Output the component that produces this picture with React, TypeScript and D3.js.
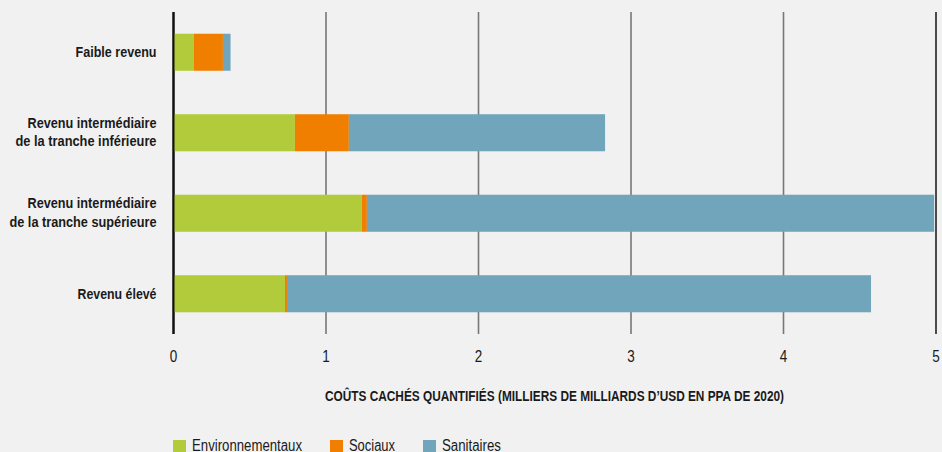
import React from "react";
import * as d3 from "d3";

const categories = [
  ["Faible revenu"],
  ["Revenu intermédiaire", "de la tranche inférieure"],
  ["Revenu intermédiaire", "de la tranche supérieure"],
  ["Revenu élevé"],
];
const seriesNames = ["Environnementaux", "Sociaux", "Sanitaires"];
const environnementaux = [0.134, 0.796, 1.235, 0.731];
const sociaux = [0.19, 0.354, 0.033, 0.013];
const sanitaires = [0.05, 1.68, 3.72, 3.83];
const xTicks = [0, 1, 2, 3, 4, 5];
const colors = ["#b1cb3a", "#f07f00", "#71a5bc"];

const W = 942;
const H = 452;
const FONT = "'Liberation Sans', Arial, sans-serif";

// widths measured on the reference (condensed typeface)
const labelWidths = [[81], [129, 141], [129, 147], [79]];
const legendWidths = [110, 46, 59];
const legendX = [173, 330, 423];

export default function App() {
  const x = d3.scaleLinear().domain([0, 5]).range([173.5, 936]);
  const y = d3
    .scaleBand<number>()
    .domain(d3.range(categories.length))
    .range([12, 334])
    .paddingInner(0.54)
    .paddingOuter(0.27);

  const rows = categories.map((_, i) => ({
    env: environnementaux[i],
    soc: sociaux[i],
    san: sanitaires[i],
  }));
  const stack = d3.stack<any>().keys(["env", "soc", "san"])(rows);

  return (
    <svg
      width={W}
      height={H}
      style={{ position: "absolute", left: 0, top: 0, background: "#f1f1f1" }}
      fontFamily={FONT}
    >
      <rect x={0} y={0} width={W} height={H} fill="#f1f1f1" />
      {xTicks.map((t) => (
        <line
          key={t}
          x1={x(t)}
          x2={x(t)}
          y1={12}
          y2={334}
          stroke={t === 0 ? "#111" : t === 5 ? "#222" : "#777"}
          strokeWidth={t === 0 ? 2 : 1.6}
        />
      ))}
      {stack.map((s, si) =>
        s.map((d, i) => (
          <rect
            key={si + "-" + i}
            x={x(d[0])}
            width={Math.max(0, x(d[1]) - x(d[0]))}
            y={y(i)}
            height={y.bandwidth()}
            fill={colors[si]}
          />
        ))
      )}
      <line x1={x(0)} x2={x(0)} y1={12} y2={334} stroke="#111" strokeWidth={2} />
      {categories.map((lines, i) => {
        const cy = (y(i) as number) + y.bandwidth() / 2;
        const baselines =
          lines.length === 1 ? [cy + 5] : [cy - 5, cy + 13.5];
        return (
          <g key={i}>
            {lines.map((l, j) => (
              <text
                key={j}
                x={156.5}
                y={baselines[j]}
                textAnchor="end"
                fontSize={15.5}
                fontWeight="bold"
                fill="#1a1a1a"
                textLength={labelWidths[i][j]}
                lengthAdjust="spacingAndGlyphs"
              >
                {l}
              </text>
            ))}
          </g>
        );
      })}
      {xTicks.map((t) => (
        <text
          key={t}
          x={x(t)}
          y={362}
          textAnchor="middle"
          fontSize={16.5}
          fill="#1a1a1a"
          textLength={7.5}
          lengthAdjust="spacingAndGlyphs"
        >
          {t}
        </text>
      ))}
      <text
        x={325}
        y={400.5}
        fontSize={14.5}
        fontWeight="bold"
        fill="#1a1a1a"
        textLength={459}
        lengthAdjust="spacingAndGlyphs"
      >
        COÛTS CACHÉS QUANTIFIÉS (MILLIERS DE MILLIARDS D’USD EN PPA DE 2020)
      </text>
      {seriesNames.map((n, i) => (
        <g key={n}>
          <rect x={legendX[i]} y={440} width={13} height={13} fill={colors[i]} />
          <text
            x={legendX[i] + 19}
            y={451}
            fontSize={16}
            fill="#1a1a1a"
            textLength={legendWidths[i]}
            lengthAdjust="spacingAndGlyphs"
          >
            {n}
          </text>
        </g>
      ))}
    </svg>
  );
}
